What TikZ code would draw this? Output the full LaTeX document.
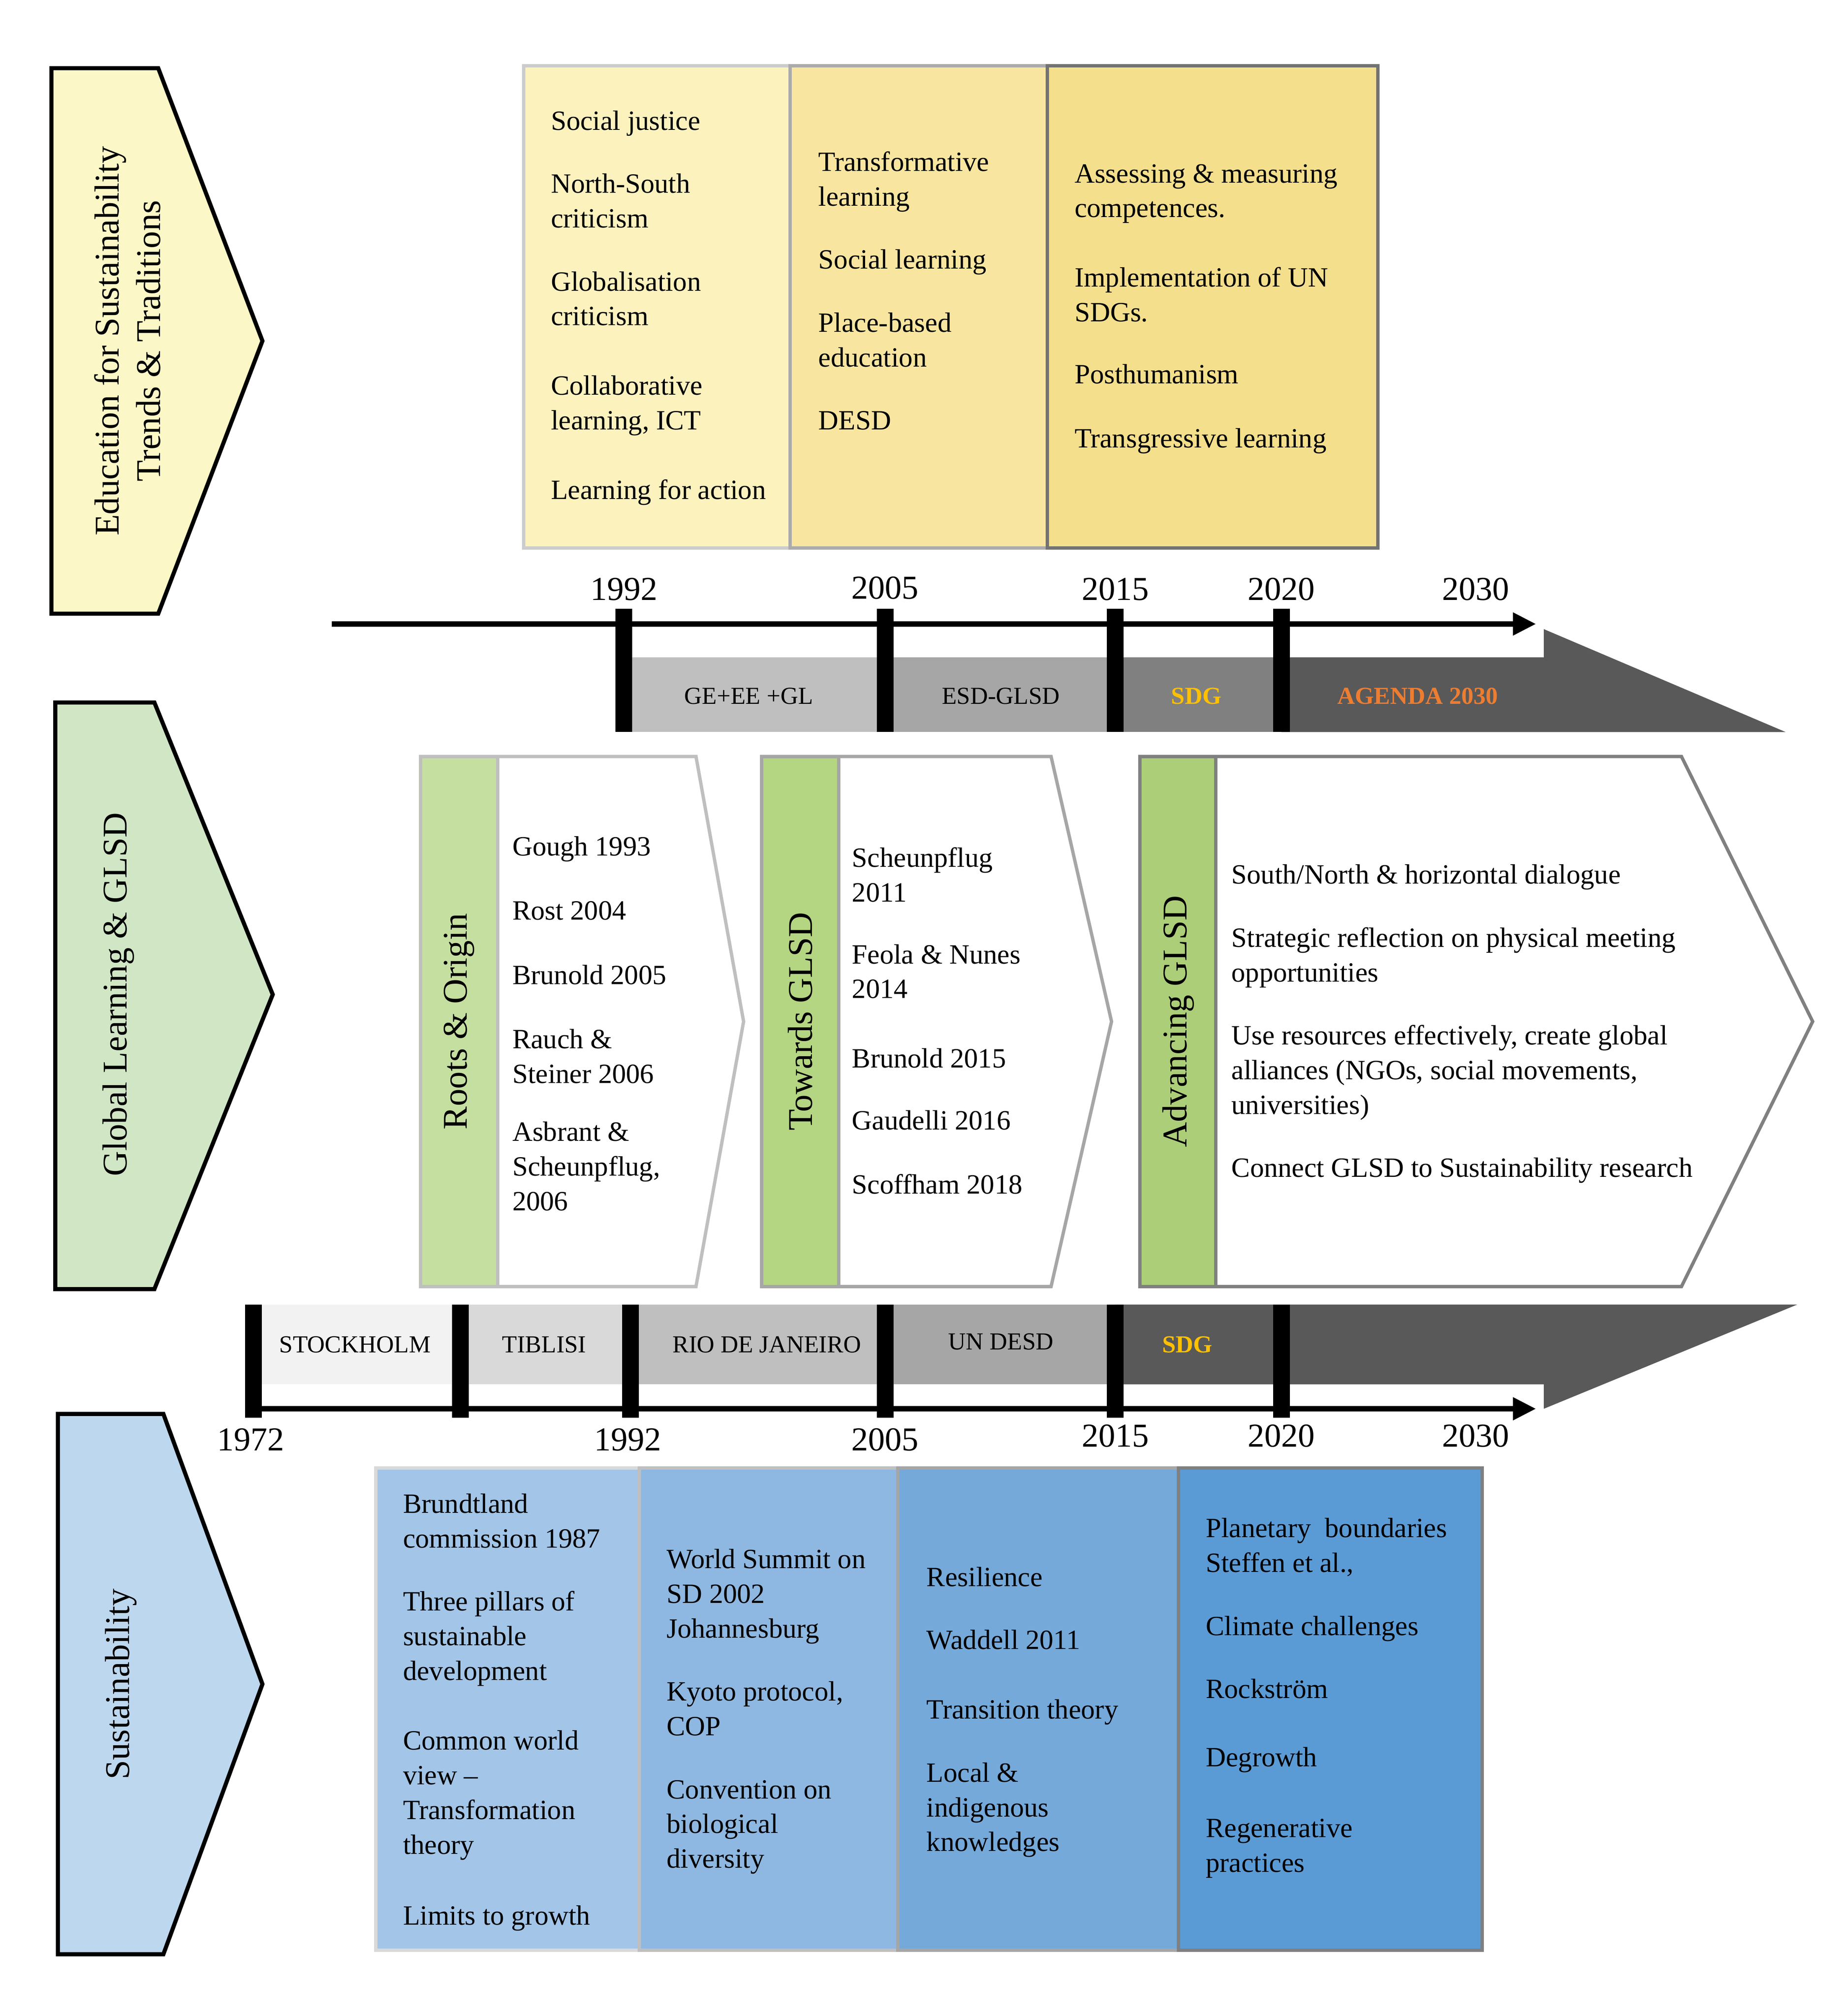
\documentclass[tikz,border=0pt]{standalone}
\usepackage{fontspec}
\setmainfont{Liberation Serif}
\usepackage{tikz}
\definecolor{colsideyellow}{RGB}{252,247,198}
\definecolor{colsidegreen}{RGB}{208,230,196}
\definecolor{colsideblue}{RGB}{189,215,238}
\definecolor{colyellowa}{RGB}{252,242,190}
\definecolor{colyellowb}{RGB}{248,230,160}
\definecolor{colyellowc}{RGB}{244,223,140}
\definecolor{colgreena}{RGB}{197,223,160}
\definecolor{colgreenb}{RGB}{180,213,130}
\definecolor{colgreenc}{RGB}{172,206,120}
\definecolor{colbluea}{RGB}{162,197,232}
\definecolor{colblueb}{RGB}{142,184,225}
\definecolor{colbluec}{RGB}{116,169,218}
\definecolor{colblued}{RGB}{91,155,213}
\definecolor{colsdg}{RGB}{255,192,0}
\definecolor{colagenda}{RGB}{237,125,49}
\usetikzlibrary{
	arrows.meta
}
\newcommand{\itemlines}[1]{\begin{tabular}[t]{@{}l@{}}#1\end{tabular}}
\tikzset{
	>={Triangle[length=4.5mm, width=4.2mm]},
	timeaxis/.style={->, line width=1.1mm},
	yearbar/.style={fill=black},
	sidearrow/.style={draw=black, line width=0.8mm, line join=miter},
	sidelabel/.style={rotate=90, align=center, inner sep=0pt, font=\fontsize{19.2}{22.8}\selectfont},
	period/.style={line width=0.65mm},
	item/.style={anchor=base west, inner sep=0pt, font=\fontsize{15.4}{19.2}\selectfont},
	year/.style={inner sep=0pt, font=\fontsize{18.5}{20}\selectfont},
	bandlabel/.style={inner sep=0pt, font=\fontsize{13.5}{15}\selectfont}
}

\begin{document}
\begin{tikzpicture}[x=0.25mm, y=-0.25mm]
	\useasboundingbox (0,0) rectangle (1434,1567);

	% side arrows
	\filldraw[sidearrow, fill=colsideyellow] (40,53) -- (123,53) -- (204,265) -- (123,477) -- (40,477) -- cycle;
	\filldraw[sidearrow, fill=colsidegreen] (43,546) -- (120,546) -- (212,773) -- (120,1002) -- (43,1002) -- cycle;
	\filldraw[sidearrow, fill=colsideblue] (45,1099) -- (127,1099) -- (204,1309) -- (127,1519) -- (45,1519) -- cycle;
	\node[sidelabel] (sidetrad) at (99,265) {Education for Sustainability\\Trends \& Traditions};
	\node[sidelabel] (sideglsd) at (92,773) {Global Learning \& GLSD};
	\node[sidelabel] (sidesust) at (94,1309) {Sustainability};

	% education trends
	\filldraw[period, draw=black!20, fill=colyellowa] (407,51) rectangle (614,426);
	\filldraw[period, draw=black!33, fill=colyellowb] (614,51) rectangle (814,426);
	\filldraw[period, draw=black!55, fill=colyellowc] (814,51) rectangle (1071,426);
	\foreach \y/\txt [count=\i] in {101/Social justice, 150/{North-South\\criticism}, 226/{Globalisation\\criticism}, 307/{Collaborative\\learning, ICT}, 388/Learning for action} {
		\node[item] (trada-\i) at (428,\y) {\itemlines{\txt}};
	}
	\foreach \y/\txt [count=\i] in {133/{Transformative\\learning}, 209/Social learning, 258/{Place-based\\education}, 334/DESD} {
		\node[item] (tradb-\i) at (636,\y) {\itemlines{\txt}};
	}
	\foreach \y/\txt [count=\i] in {142/{Assessing \& measuring\\competences.}, 223/{Implementation of UN\\SDGs.}, 298/Posthumanism, 348/Transgressive learning} {
		\node[item] (tradc-\i) at (835,\y) {\itemlines{\txt}};
	}

	% upper timeline
	\foreach \xa/\xb/\col [count=\i] in {485/688/black!25, 688/867/black!35, 867/996/black!50} {
		\fill[\col] (\xa,511) rectangle (\xb,569);
	}
	\fill[black!65] (996,511) -- (1200,511) -- (1200,489) -- (1388,569) -- (996,569) -- cycle;
	\node[bandlabel] (upband-1) at (582,541) {GE+EE +GL};
	\node[bandlabel] (upband-2) at (778,541) {ESD-GLSD};
	\node[bandlabel, text=colsdg, font=\fontsize{13.5}{15}\selectfont\bfseries] (upband-3) at (930,541) {SDG};
	\node[bandlabel, text=colagenda, font=\fontsize{13.5}{15}\selectfont\bfseries] (upband-4) at (1102,541) {AGENDA 2030};
	\coordinate (upstart) at (258,485);
	\coordinate (upend) at (1194,485);
	\draw[timeaxis] (upstart) -- (upend);
	\foreach \x in {485,688,867,996} {
		\fill[yearbar] ({\x-6.5},473) rectangle ({\x+6.5},569);
	}
	\foreach \x/\y/\yr [count=\i] in {485/458/1992, 688/457/2005, 867/458/2015, 996/458/2020, 1147/458/2030} {
		\node[year] (upyear-\i) at (\x,\y) {\yr};
	}

	% global learning & GLSD
	\filldraw[period, draw=black!25, fill=white] (327,588) -- (541,588) -- (578,794) -- (541,1000) -- (327,1000) -- cycle;
	\filldraw[period, draw=black!25, fill=colgreena] (327,588) rectangle (387,1000);
	\filldraw[period, draw=black!35, fill=white] (592,588) -- (817,588) -- (864,794) -- (817,1000) -- (592,1000) -- cycle;
	\filldraw[period, draw=black!35, fill=colgreenb] (592,588) rectangle (652,1000);
	\filldraw[period, draw=black!50, fill=white] (886,588) -- (1307,588) -- (1409,794) -- (1307,1000) -- (886,1000) -- cycle;
	\filldraw[period, draw=black!50, fill=colgreenc] (886,588) rectangle (945,1000);
	\node[sidelabel] (roots) at (357,794) {Roots \& Origin};
	\node[sidelabel] (towards) at (622,794) {Towards GLSD};
	\node[sidelabel] (advancing) at (916,794) {Advancing GLSD};
	\foreach \y/\txt [count=\i] in {665/Gough 1993, 715/Rost 2004, 765/Brunold 2005, 815/{Rauch \&\\Steiner 2006}, 887/{Asbrant \&\\Scheunpflug,\\2006}} {
		\node[item] (rootsitem-\i) at (398,\y) {\itemlines{\txt}};
	}
	\foreach \y/\txt [count=\i] in {674/{Scheunpflug\\2011}, 749/{Feola \& Nunes\\2014}, 830/Brunold 2015, 878/Gaudelli 2016, 928/Scoffham 2018} {
		\node[item] (towardsitem-\i) at (662,\y) {\itemlines{\txt}};
	}
	\foreach \y/\txt [count=\i] in {687/{South/North \& horizontal dialogue}, 736/{Strategic reflection on physical meeting\\opportunities}, 812/{Use resources effectively, create global\\alliances (NGOs, social movements,\\universities)}, 915/Connect GLSD to Sustainability research} {
		\node[item] (advitem-\i) at (957,\y) {\itemlines{\txt}};
	}

	% lower timeline
	\foreach \xa/\xb/\col [count=\i] in {197/358/black!5, 358/490/black!15, 490/688/black!25, 688/867/black!35} {
		\fill[\col] (\xa,1014) rectangle (\xb,1076);
	}
	\fill[black!65] (867,1014) -- (1397,1014) -- (1200,1095) -- (1200,1076) -- (867,1076) -- cycle;
	\foreach \x/\y/\txt [count=\i] in {276/1045/STOCKHOLM, 423/1045/TIBLISI, 596/1045/RIO DE JANEIRO, 778/1043/UN DESD} {
		\node[bandlabel] (lowband-\i) at (\x,\y) {\txt};
	}
	\node[bandlabel, text=colsdg, font=\fontsize{13.5}{15}\selectfont\bfseries] (lowband-5) at (923,1045) {SDG};
	\coordinate (lowstart) at (197,1095);
	\coordinate (lowend) at (1194,1095);
	\draw[timeaxis] (lowstart) -- (lowend);
	\foreach \x in {197,358,490,688,867,996} {
		\fill[yearbar] ({\x-6.5},1014) rectangle ({\x+6.5},1102);
	}
	\foreach \x/\y/\yr [count=\i] in {195/1119/1972, 488/1119/1992, 688/1119/2005, 867/1116/2015, 996/1116/2020, 1147/1116/2030} {
		\node[year] (lowyear-\i) at (\x,\y) {\yr};
	}

	% sustainability
	\filldraw[period, draw=black!15, fill=colbluea] (292,1141) rectangle (497,1516);
	\filldraw[period, draw=black!25, fill=colblueb] (497,1141) rectangle (698,1516);
	\filldraw[period, draw=black!35, fill=colbluec] (698,1141) rectangle (916,1516);
	\filldraw[period, draw=black!50, fill=colblued] (916,1141) rectangle (1152,1516);
	\foreach \y/\txt [count=\i] in {1176/{Brundtland\\commission 1987}, 1252/{Three pillars of\\sustainable\\development}, 1360/{Common world\\view --\\Transformation\\theory}, 1496/Limits to growth} {
		\node[item] (susta-\i) at (313,\y) {\itemlines{\txt}};
	}
	\foreach \y/\txt [count=\i] in {1219/{World Summit on\\SD 2002\\Johannesburg}, 1322/{Kyoto protocol,\\COP}, 1398/{Convention on\\biological\\diversity}} {
		\node[item] (sustb-\i) at (518,\y) {\itemlines{\txt}};
	}
	\foreach \y/\txt [count=\i] in {1233/Resilience, 1282/Waddell 2011, 1336/Transition theory, 1385/{Local \&\\indigenous\\knowledges}} {
		\node[item] (sustc-\i) at (720,\y) {\itemlines{\txt}};
	}
	\foreach \y/\txt [count=\i] in {1195/{Planetary\ \ boundaries\\Steffen et al.,}, 1271/Climate challenges, 1320/Rockström, 1373/Degrowth, 1428/{Regenerative\\practices}} {
		\node[item] (sustd-\i) at (937,\y) {\itemlines{\txt}};
	}
\end{tikzpicture}
\end{document}
